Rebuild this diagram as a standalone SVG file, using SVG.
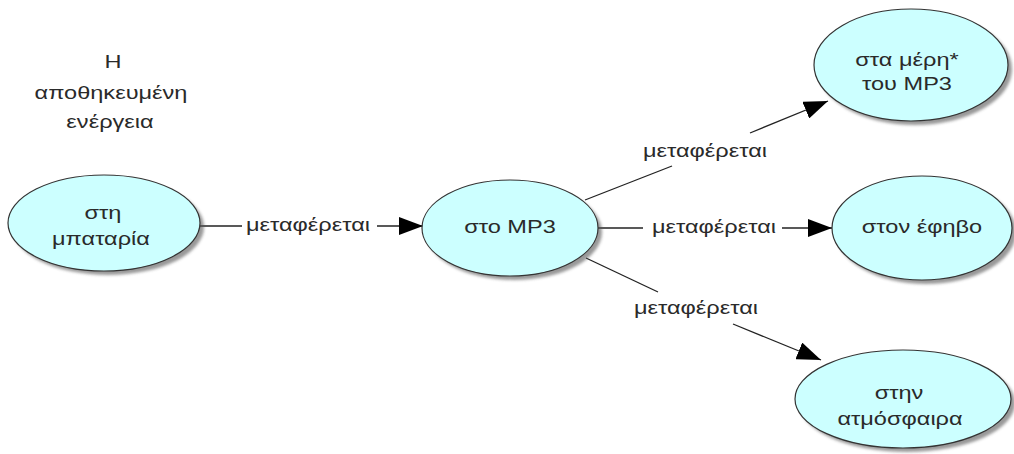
<svg xmlns="http://www.w3.org/2000/svg" width="1014" height="454" viewBox="0 0 1014 454">
<style>
.n{fill:#ccffff;stroke:#333;stroke-width:1.2}
.sh{fill:#555;opacity:0.6}
.t{font-family:"Liberation Sans",Arial,sans-serif;font-size:19px;fill:#2a2a2a;text-anchor:middle}
.c{stroke:#222;stroke-width:1.3;fill:none}
</style>
<defs>
<filter id="blur" x="-10%" y="-10%" width="130%" height="130%"><feGaussianBlur stdDeviation="1.5"/></filter>
<marker id="ah" viewBox="0 0 24 18" refX="24" refY="9" markerWidth="24" markerHeight="18" markerUnits="userSpaceOnUse" orient="auto"><path d="M0,0 L24,9 L0,18 Z" fill="#000"/></marker>
</defs>
<g id="title">
<text class="t" transform="translate(113,68) scale(1.24,1)">H</text>
<text class="t" transform="translate(111,99) scale(1.24,1)">αποθηκευμένη</text>
<text class="t" transform="translate(110,128) scale(1.24,1)">ενέργεια</text>
</g>
<g id="connectors">
<line class="c" x1="200" y1="226" x2="242" y2="226"/>
<text class="t" transform="translate(308,231) scale(1.24,1)">μεταφέρεται</text>
<line class="c" x1="377" y1="226" x2="423" y2="226" marker-end="url(#ah)"/>
<line class="c" x1="585" y1="200" x2="672" y2="166"/>
<text class="t" transform="translate(705,157) scale(1.24,1)">μεταφέρεται</text>
<line class="c" x1="750" y1="133" x2="828" y2="101" marker-end="url(#ah)"/>
<line class="c" x1="598" y1="228" x2="643" y2="228"/>
<text class="t" transform="translate(714,233) scale(1.24,1)">μεταφέρεται</text>
<line class="c" x1="782" y1="228" x2="832" y2="228" marker-end="url(#ah)"/>
<line class="c" x1="586" y1="258" x2="658" y2="292"/>
<text class="t" transform="translate(696,314) scale(1.24,1)">μεταφέρεται</text>
<line class="c" x1="733" y1="324" x2="821" y2="360" marker-end="url(#ah)"/>
</g>
<g id="n1"><ellipse class="sh" cx="108" cy="227" rx="96" ry="48" filter="url(#blur)"/><ellipse class="n" cx="104" cy="223" rx="96" ry="48"/><text class="t" transform="translate(103,219) scale(1.24,1)">στη</text><text class="t" transform="translate(101,245) scale(1.24,1)">μπαταρία</text></g>
<g id="n2"><ellipse class="sh" cx="514" cy="232" rx="88" ry="48" filter="url(#blur)"/><ellipse class="n" cx="510" cy="228" rx="88" ry="48"/><text class="t" transform="translate(510,233) scale(1.24,1)">στο MP3</text></g>
<g id="n3"><ellipse class="sh" cx="915" cy="69" rx="97" ry="56" filter="url(#blur)"/><ellipse class="n" cx="911" cy="65" rx="97" ry="56"/><text class="t" transform="translate(907,66) scale(1.24,1)">στα μέρη*</text><text class="t" transform="translate(907,90) scale(1.24,1)">του MP3</text></g>
<g id="n4"><ellipse class="sh" cx="926" cy="232" rx="90" ry="52" filter="url(#blur)"/><ellipse class="n" cx="922" cy="228" rx="90" ry="52"/><text class="t" transform="translate(922,233) scale(1.24,1)">στον έφηβο</text></g>
<g id="n5"><ellipse class="sh" cx="907" cy="403" rx="108" ry="49" filter="url(#blur)"/><ellipse class="n" cx="903" cy="399" rx="108" ry="49"/><text class="t" transform="translate(899,399) scale(1.24,1)">στην</text><text class="t" transform="translate(900,425) scale(1.24,1)">ατμόσφαιρα</text></g>
</svg>
